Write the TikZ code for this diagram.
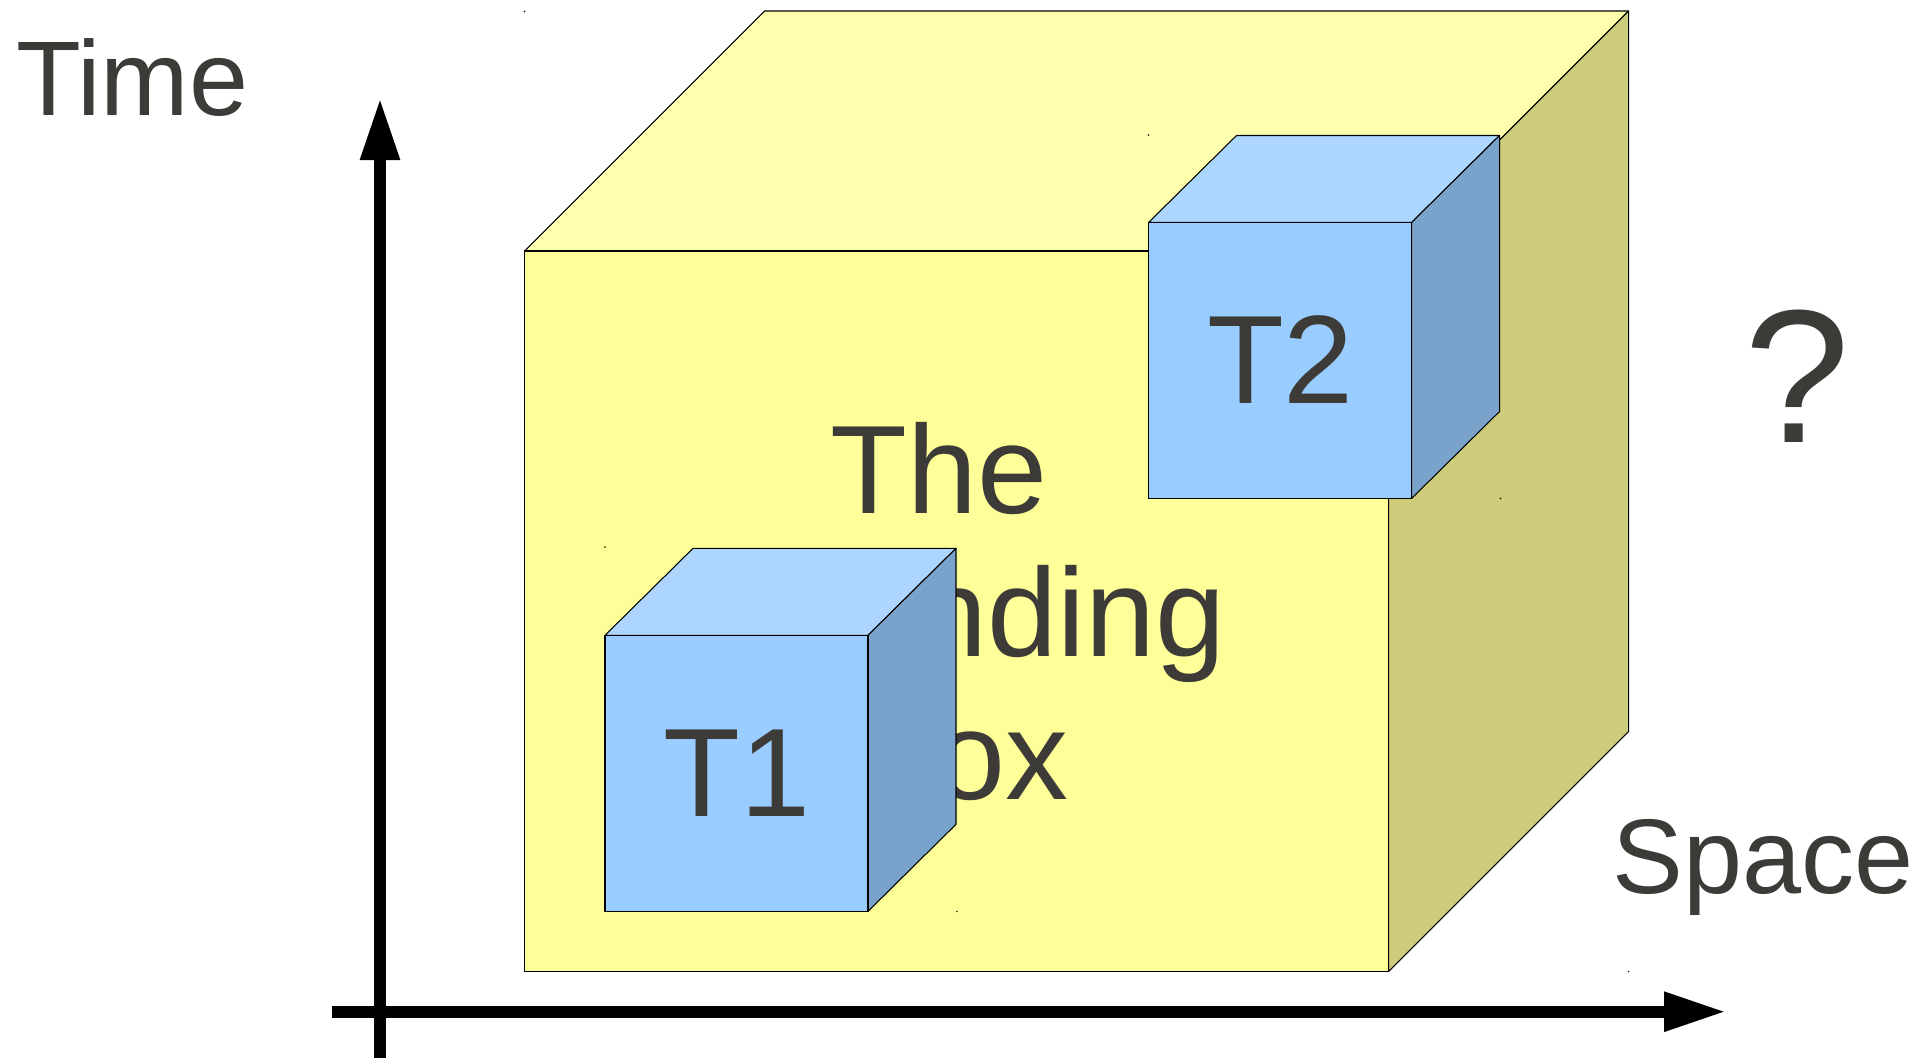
\documentclass[tikz,border=0pt]{standalone}
\usepackage{fontspec}
\usepackage{xcolor}
\usetikzlibrary{arrows.meta}
\setmainfont{Liberation Sans}
\definecolor{ink}{HTML}{3C3B37}
\definecolor{boxfront}{HTML}{FFFF99}
\definecolor{boxtop}{HTML}{FFFFAD}
\definecolor{boxside}{HTML}{CCCC7A}
\definecolor{cubefront}{HTML}{99CCFF}
\definecolor{cubetop}{HTML}{ADD6FF}
\definecolor{cubeside}{HTML}{7AA3CC}
\tikzset{
  edge/.style={draw=black, line width=0.3pt, line join=round},
  axis/.style={draw=black, line width=0.117cm, -{Triangle[length=0.62cm,width=0.37cm]}},
  lab/.style={text=ink, font=\fontsize{30.2}{33}\selectfont, inner sep=0pt},
  labm/.style={text=ink, font=\fontsize{35.8}{40.7}\selectfont, inner sep=0pt},
  labq/.style={text=ink, font=\fontsize{54}{58}\selectfont, inner sep=0pt},
}
\begin{document}
\begin{tikzpicture}
  \useasboundingbox (0,0) rectangle (19.15,10.58);
  \def\d{2.4}
  % the big box
  \draw[edge, fill=boxtop] (5.245,8.07) -- ++(\d,\d) -- ++(8.64,0) -- ++(-\d,-\d) -- cycle;
  \draw[edge, fill=boxside] (13.885,0.865) -- ++(\d,\d) -- ++(0,7.205) -- ++(-\d,-\d) -- cycle;
  \draw[edge, fill=boxfront] (5.245,0.865) rectangle ++(8.64,7.205);
  \node[labm, align=center] (bbox) at (9.67,4.465) {The\kern0.56cm\\bounding\\box};
  % the two cubes
  \foreach \x/\y/\name in {6.05/1.467/T1, 11.485/5.595/T2} {
    \draw[edge, fill=cubetop] (\x,\y+2.76) -- ++(0.88,0.87) -- ++(2.63,0) -- ++(-0.88,-0.87) -- cycle;
    \draw[edge, fill=cubeside] (\x+2.63,\y) -- ++(0.88,0.87) -- ++(0,2.76) -- ++(-0.88,-0.87) -- cycle;
    \draw[edge, fill=cubefront] (\x,\y) rectangle ++(2.63,2.76);
    \node[labm, anchor=base] (\name) at (\x+1.32,\y+0.95) {\name};
  }
  % small specks at the corners
  \foreach \x/\y in {5.245/10.465, 11.485/9.23, 6.05/5.11, 15.005/5.595, 9.57/1.467, 16.285/0.865}
    \fill[black] (\x,\y) circle (0.008);
  % axes
  \coordinate (ybot) at (3.8,0);
  \coordinate (ytop) at (3.8,9.6);
  \coordinate (xleft) at (3.32,0.463);
  \coordinate (xright) at (17.26,0.463);
  \draw[axis] (ybot) -- (ytop);
  \draw[axis] (xleft) -- (xright);
  \node[lab, anchor=base west] (time) at (0.155,9.43) {Time};
  \node[lab, anchor=base west] (space) at (16.12,1.65) {Space};
  \node[labq, anchor=base] (what) at (17.97,6.16) {?};
\end{tikzpicture}
\end{document}
